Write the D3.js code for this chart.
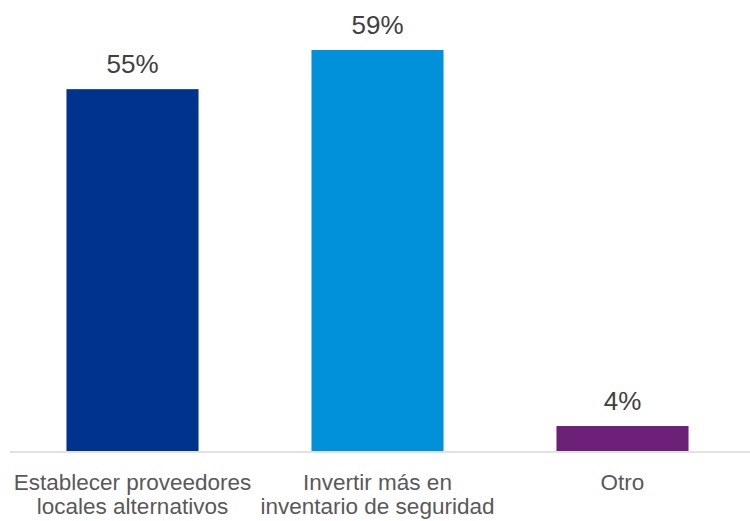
<!DOCTYPE html>
<html>
<head>
<meta charset="utf-8">
<script src="https://cdn.jsdelivr.net/npm/d3@7"></script>
<style>
  html, body { margin: 0; padding: 0; background: #ffffff; }
  svg { display: block; }
</style>
</head>
<body>
<svg id="chart" width="750" height="521"></svg>
<script>
const categories = [
  ["Establecer proveedores", "locales alternativos"],
  ["Invertir más en", "inventario de seguridad"],
  ["Otro"]
];
const values = [53.6, 59.4, 3.7];
const valueLabels = ["55%", "59%", "4%"];
const colors = ["#00338D", "#0091DA", "#6D2077"];

const svg = d3.select("#chart");
const font = "'Liberation Sans', Arial, sans-serif";

const x = d3.scaleBand()
  .domain(d3.range(values.length))
  .range([10, 745])
  .paddingInner(0.461)
  .paddingOuter(0.2305);

const y = d3.scaleLinear()
  .domain([0, 59.4])
  .range([451, 50]);

svg.selectAll("rect.bar")
  .data(values)
  .join("rect")
  .attr("class", "bar")
  .attr("x", (d, i) => x(i))
  .attr("y", d => y(d))
  .attr("width", x.bandwidth())
  .attr("height", d => y(0) - y(d))
  .attr("fill", (d, i) => colors[i]);

// baseline axis
svg.append("line")
  .attr("x1", 10).attr("x2", 750)
  .attr("y1", y(0) + 1).attr("y2", y(0) + 1)
  .attr("stroke", "#d9d9d9")
  .attr("stroke-width", 1.5);

// value labels
svg.selectAll("text.val")
  .data(values)
  .join("text")
  .attr("class", "val")
  .attr("x", (d, i) => x(i) + x.bandwidth() / 2)
  .attr("y", d => y(d) - 16.5)
  .attr("text-anchor", "middle")
  .attr("font-family", font)
  .attr("font-size", "26px")
  .attr("fill", "#404040")
  .text((d, i) => valueLabels[i]);

// category labels
const cat = svg.selectAll("text.cat")
  .data(categories)
  .join("text")
  .attr("class", "cat")
  .attr("text-anchor", "middle")
  .attr("font-family", font)
  .attr("font-size", "22.5px")
  .attr("fill", "#595959");

cat.selectAll("tspan")
  .data((d, i) => d.map(t => ({ t, i })))
  .join("tspan")
  .attr("x", d => x(d.i) + x.bandwidth() / 2)
  .attr("y", (d, j) => 489.5 + j * 24.5)
  .text(d => d.t);
</script>
</body>
</html>
